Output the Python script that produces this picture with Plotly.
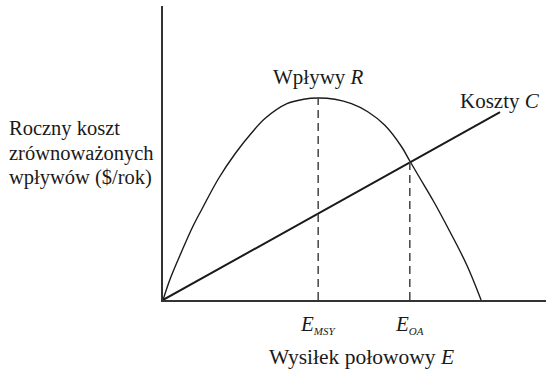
import plotly.graph_objects as go

# Revenue curve R(E) (effort units, $/year units)
effort = [0, 2.29, 5.64, 9.27, 12.21, 17.41, 22.64, 27.86, 32.03, 38.82,
          44.02, 48.62, 53.85, 59.05, 64.28, 69.51, 74.70, 77.33, 80.56,
          84.72, 89.95, 95.18, 99.66]
revenue = [0, 7.31, 15.99, 24.83, 30.95, 41.33, 49.83, 56.97, 61.80, 66.77,
           68.27, 68.71, 68.27, 66.77, 63.95, 59.42, 52.21, 47.28, 41.33,
           33.67, 23.13, 11.90, 0]

# Cost line C(E)
cost_effort = [0, 105.6]
cost = [0, 63.9]

# Marked effort levels
e_msy = 48.62
r_msy = 68.71
e_oa = 77.33
r_oa = 46.9

y_label_lines = ["Roczny koszt", "zrównoważonych", "wpływów ($/rok)"]
y_label_pos = [58.5, 50.0, 41.5]

FONT = "Liberation Serif, Times New Roman, serif"
INK = "#1a1a1a"
SUB = "<sub><span style='font-size:11px'>{}</span></sub>"

fig = go.Figure()

fig.add_trace(go.Scatter(
    x=effort, y=revenue, mode="lines", line_shape="spline",
    line={"color": INK, "width": 1.4}, showlegend=False,
))
fig.add_trace(go.Scatter(
    x=cost_effort, y=cost, mode="lines",
    line={"color": INK, "width": 2}, showlegend=False,
))
for ex, ey in [(e_msy, r_msy), (e_oa, r_oa)]:
    fig.add_trace(go.Scatter(
        x=[ex, ex], y=[0, ey], mode="lines",
        line={"color": "#444", "width": 1.5, "dash": "8px,5px"},
        showlegend=False,
    ))

annotations = [
    {"x": e_msy, "y": r_msy, "yshift": 21, "text": "Wpływy <i>R</i>"},
    {"x": cost_effort[1], "y": cost[1], "yshift": 11,
     "text": "Koszty <i>C</i>"},
    {"x": e_msy, "y": 0, "yshift": -24,
     "text": "<i>E" + SUB.format("MSY") + "</i>"},
    {"x": e_oa, "y": 0, "yshift": -24,
     "text": "<i>E" + SUB.format("OA") + "</i>"},
    {"x": 62.1, "y": 0, "yshift": -57, "size": 21.5,
     "text": "Wysiłek połowowy <i>E</i>"},
]
for line, ypos in zip(y_label_lines, y_label_pos):
    annotations.append({
        "x": 0, "xref": "paper", "xanchor": "left", "xshift": -156,
        "y": ypos, "text": line, "size": 20.5,
    })
for a in annotations:
    a.setdefault("xref", "x")
    a.setdefault("yref", "y")
    a.setdefault("showarrow", False)
    a.setdefault("xanchor", "center")
    a["font"] = {"family": FONT, "size": a.pop("size", 21), "color": INK}

fig.update_layout(
    width=546, height=373,
    margin={"l": 163, "r": 0, "t": 6, "b": 73},
    paper_bgcolor="white", plot_bgcolor="white",
    font={"family": FONT},
    xaxis={"range": [0, 120], "showline": True, "linecolor": "#333",
           "linewidth": 1.5, "showgrid": False, "zeroline": False,
           "showticklabels": False, "ticks": ""},
    yaxis={"range": [0, 100], "showline": True, "linecolor": "#333",
           "linewidth": 1.5, "showgrid": False, "zeroline": False,
           "showticklabels": False, "ticks": ""},
    annotations=annotations,
)

fig.write_html("out.html", config={"displayModeBar": False},
               post_script="document.body.style.margin = '0';")
